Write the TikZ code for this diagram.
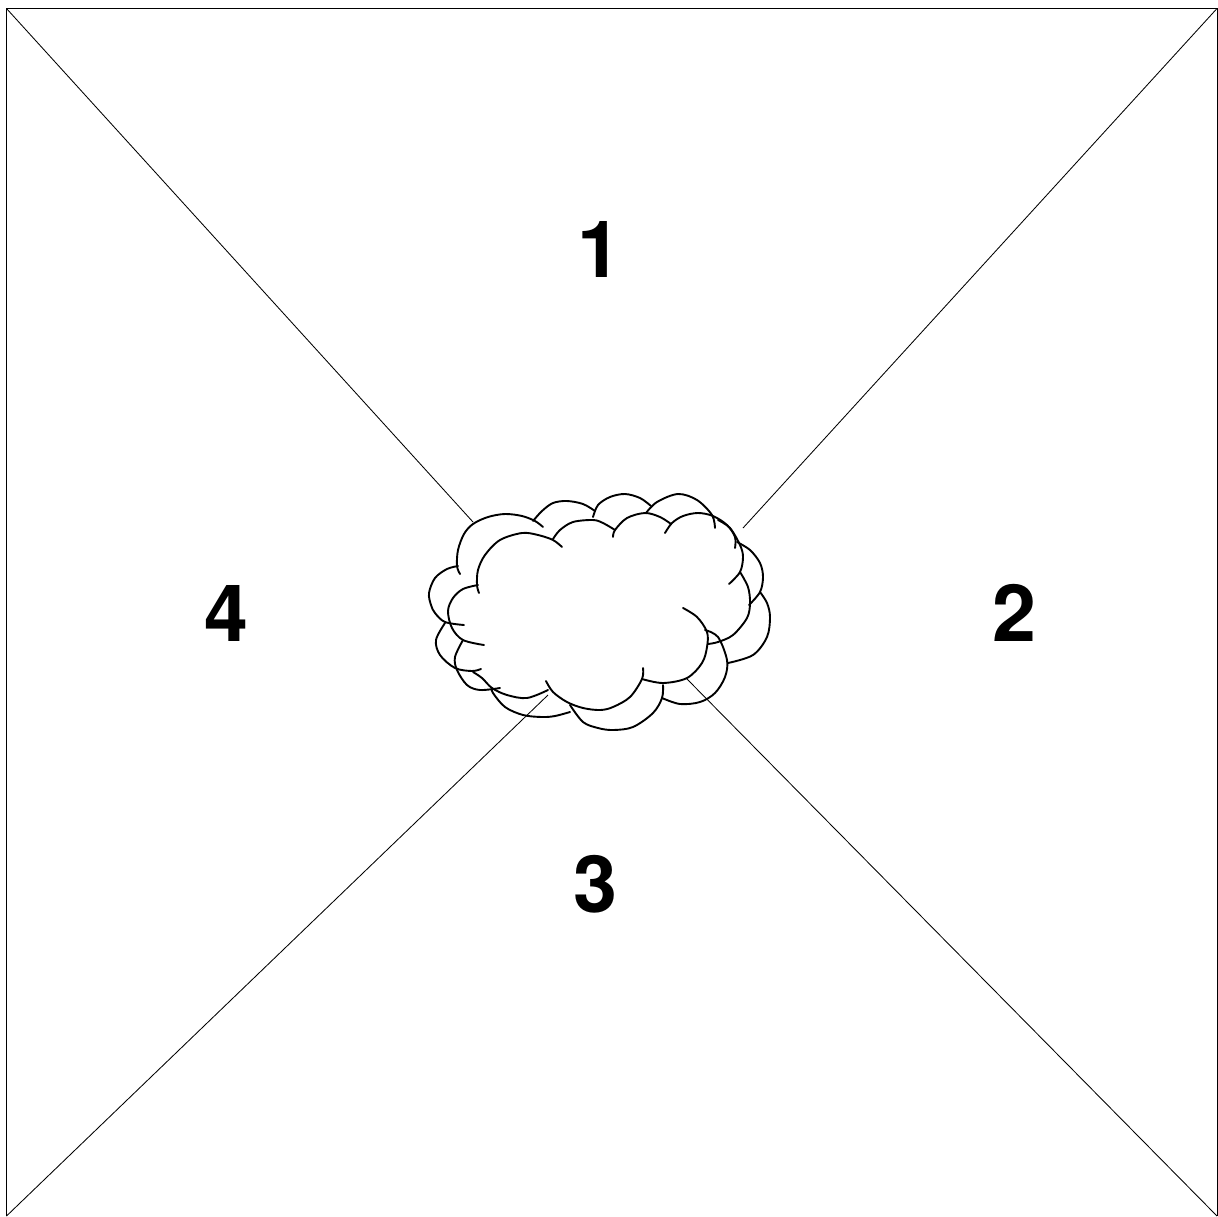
\documentclass[tikz,border=0pt]{standalone}
\usepackage{fontspec}
\setmainfont{TeX Gyre Heros}
\usetikzlibrary{positioning}
\tikzset{
  edge/.style ={line width=0.85pt,draw=black},
  puff/.style ={line width=1.9pt,draw=black,line cap=round,tension=0.55},
  sector/.style={font=\bfseries\fontsize{79}{79}\selectfont,inner sep=0pt,text=black}
}
\begin{document}
\begin{tikzpicture}[x=1pt,y=-1pt]
    \useasboundingbox (0,0) rectangle (1218,1216);
    \coordinate (nw) at (6.5,8.5);
    \coordinate (ne) at (1217,8.5);
    \coordinate (se) at (1217,1216);
    \coordinate (sw) at (6.5,1216);
    \coordinate (cnw) at (473,522);
    \coordinate (cne) at (743,528);
    \coordinate (cse) at (686,678);
    \coordinate (csw) at (548,695);
    \draw[edge] (sw) -- (nw) -- (ne) -- (se);
    \draw[edge] (nw) -- (cnw);
    \draw[edge] (ne) -- (cne);
    \draw[edge] (se) -- (cse);
    \draw[edge] (sw) -- (csw);
    % outer cloud
    \draw[puff] plot[smooth] coordinates {(460,574) (457,566) (458,550) (464,534) (473,524) (488,517) (505,514) (522,516) (535,521) (543,527)};
    \draw[puff] plot[smooth] coordinates {(458,566) (447,569) (435,578) (429,593) (431,605) (435,613) (445,622) (464,625)};
    \draw[puff] plot[smooth] coordinates {(533,521) (542,511) (553,503) (567,501) (583,504) (595,511)};
    \draw[puff] plot[smooth] coordinates {(593,517) (598,505) (610,497) (625,494) (640,498) (651,506)};
    \draw[puff] plot[smooth] coordinates {(646,513) (657,502) (678,494) (697,500) (712,515) (715,528)};
    \draw[puff] plot[smooth] coordinates {(718,520) (730,528) (740,545) (743,557) (740,572) (729,584)};
    \draw[puff] plot[smooth] coordinates {(737,542) (750,550) (760,563) (763,577) (760,592) (749,605)};
    \draw[puff] plot[smooth] coordinates {(760,592) (767,603) (770,617) (767,637) (753,655) (728,663)};
    \draw[puff] plot[smooth] coordinates {(705,630) (718,637) (727,660) (725,677) (715,693) (700,702) (680,704) (662,698)};
    \draw[puff] plot[smooth] coordinates {(663,685) (662,698) (653,713) (633,727) (613,730) (598,728) (583,722) (570,705)};
    \draw[puff] plot[smooth] coordinates {(570,712) (555,716) (542,717) (523,715) (505,707) (493,693) (492,688)};
    \draw[puff] plot[smooth] coordinates {(481,669) (472,671) (455,668) (440,655) (436,640) (445,623)};
    % inner cloud
    \draw[puff] plot[smooth] coordinates {(479,593) (477,585) (478,570) (485,555) (500,540) (522,533) (538,535) (553,540) (562,547)};
    \draw[puff] plot[smooth] coordinates {(478,585) (463,589) (453,598) (448,611) (452,628) (463,640) (484,645)};
    \draw[puff] plot[smooth] coordinates {(553,539) (560,530) (573,522) (593,520) (603,523) (615,530)};
    \draw[puff] plot[smooth] coordinates {(613,537) (615,530) (627,518) (645,513) (660,517) (671,524)};
    \draw[puff] plot[smooth] coordinates {(665,533) (672,523) (683,516) (698,513) (713,516) (727,525) (735,537) (735,548)};
    \draw[puff] plot[smooth] coordinates {(740,572) (748,587) (750,603) (747,618) (733,635) (718,642) (708,644)};
    \draw[puff] plot[smooth] coordinates {(683,608) (697,617) (707,632) (707,647) (702,663) (687,678) (663,683) (642,679)};
    \draw[puff] plot[smooth] coordinates {(546,681) (553,692) (567,702) (583,708) (600,710) (613,707) (630,697) (642,679) (643,668)};
    \draw[puff] plot[smooth] coordinates {(548,690) (527,698) (507,695) (492,688) (482,678) (473,672)};
    \draw[puff] plot[smooth] coordinates {(500,688) (480,690) (467,685) (457,670) (455,657) (463,640)};
    \node[sector] (one) at (599,249) {1};
    \node[sector] (two) at (1014,613) {2};
    \node[sector] (three) at (595,884) {3};
    \node[sector] (four) at (226,613) {4};
\end{tikzpicture}
\end{document}
